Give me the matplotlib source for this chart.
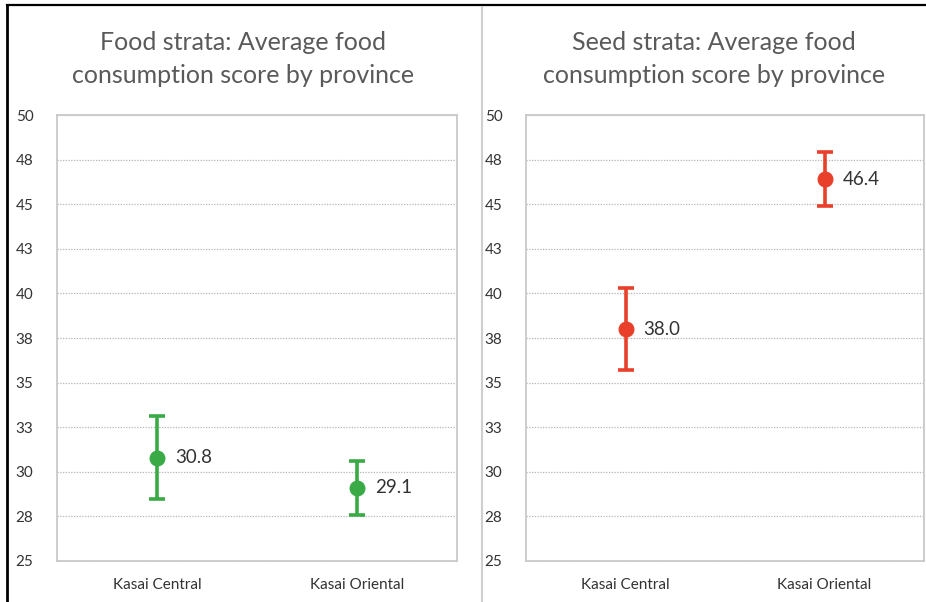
import matplotlib.pyplot as plt
from matplotlib.lines import Line2D
from matplotlib.ticker import FixedLocator, FuncFormatter

plt.rcParams['font.family'] = ['Lato', 'DejaVu Sans']

provinces = ['Kasai Central', 'Kasai Oriental']
food_scores = [30.8, 29.1]
food_err = [2.3, 1.5]
seed_scores = [38.0, 46.4]
seed_err = [2.3, 1.5]
yticks = [25, 27.5, 30, 32.5, 35, 37.5, 40, 42.5, 45, 47.5, 50]

panels = [
    ('Food strata: Average food\nconsumption score by province', food_scores, food_err, '#3aaa47'),
    ('Seed strata: Average food\nconsumption score by province', seed_scores, seed_err, '#e8402a'),
]

fig = plt.figure(figsize=(9.26, 6.02), dpi=100)
W, H = 926, 602
boxes = [(57, 457), (526, 924)]
top, bottom = 115, 561
title_x = [243, 714]

for (title, vals, errs, col), (x0, x1), tx in zip(panels, boxes, title_x):
    ax = fig.add_axes([x0 / W, 1 - bottom / H, (x1 - x0) / W, (bottom - top) / H])
    xs = list(range(len(provinces)))
    ax.errorbar(xs, vals, yerr=errs, fmt='o', color=col, ms=10.5, elinewidth=2.6,
                capsize=5.5, capthick=2.6, zorder=3)
    for x, v in zip(xs, vals):
        ax.text(x + 0.09, v, f'{v:.1f}', va='center', ha='left', fontsize=13.5, color='#333333')
    ax.set_xlim(-0.5, 1.5)
    ax.set_ylim(25, 50)
    ax.yaxis.set_major_locator(FixedLocator(yticks))
    ax.yaxis.set_major_formatter(FuncFormatter(lambda v, p: f'{int(v + 0.5)}'))
    ax.set_xticks(xs)
    ax.set_xticklabels(provinces)
    ax.tick_params(axis='y', length=0, pad=17, labelsize=11, labelcolor='#333333')
    ax.tick_params(axis='x', length=0, pad=12, labelsize=11, labelcolor='#333333')
    ax.grid(axis='y', linestyle=(0, (1, 1.2)), color='#b5b5b5', linewidth=0.9)
    ax.set_axisbelow(True)
    for s in ax.spines.values():
        s.set_color('#c9c9c9')
        s.set_linewidth(1.3)
    fig.text(tx / W, 1 - 59 / H, title, ha='center', va='center', fontsize=18,
             color='#5a5a5a', linespacing=1.55)

# frame edges and the panel divider
fig.add_artist(Line2D([7 / W, 7 / W], [0, 1 - 5 / H], color='black', lw=2))
fig.add_artist(Line2D([7 / W, 1], [1 - 5 / H, 1 - 5 / H], color='black', lw=1.6))
fig.add_artist(Line2D([482 / W, 482 / W], [0, 1 - 7 / H], color='#cfcfcf', lw=1.5))

fig.savefig('out.png', dpi=100)
